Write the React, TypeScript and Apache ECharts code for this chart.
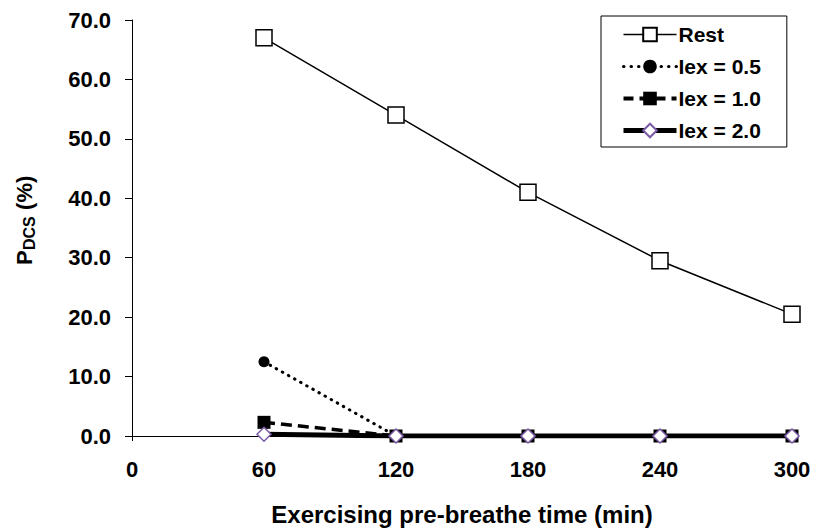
import React, { useEffect, useRef } from "react";
import * as echarts from "echarts";

const times = [60, 120, 180, 240, 300];
const rest = [67.0, 54.0, 41.0, 29.5, 20.5];
const iex05 = [12.5, 0, 0, 0, 0];
const iex10 = [2.3, 0, 0, 0, 0];
const iex20 = [0.3, 0, 0, 0, 0];
const seriesNames = ["Rest", "Iex = 0.5", "Iex = 1.0", "Iex = 2.0"];
const xTitle = "Exercising pre-breathe time (min)";

const FONT = "'Liberation Sans', Arial, sans-serif";

const pairs = (ys: number[]) => times.map((t, i) => [t, ys[i]]);

export default function App() {
  const ref = useRef<HTMLDivElement>(null);
  useEffect(() => {
    if (!ref.current) return;
    const chart = echarts.init(ref.current, undefined, { renderer: "svg" });
    chart.setOption({
      animation: false,
      backgroundColor: "#fff",
      textStyle: { fontFamily: FONT, color: "#000" },
      grid: { left: 132, right: 22, top: 20, bottom: 91, containLabel: false },
      legend: {
        orient: "vertical",
        left: 601,
        top: 16,
        padding: [8, 26, 6, 20],
        borderColor: "#000",
        borderWidth: 1,
        backgroundColor: "#fff",
        itemWidth: 53,
        itemHeight: 17,
        itemGap: 11,
        textStyle: { fontFamily: FONT, fontWeight: "bold", fontSize: 21, color: "#000", padding: [0, 0, 0, -3] },
        data: [
          { name: seriesNames[0], lineStyle: { width: 1.5, color: "#000" } },
          { name: seriesNames[1], lineStyle: { width: 3, color: "#000", type: [0.5, 7], cap: "round" } },
          { name: seriesNames[2], lineStyle: { width: 4, color: "#000", type: [10, 6] } },
          { name: seriesNames[3], lineStyle: { width: 5, color: "#000" } },
        ],
      },
      xAxis: {
        type: "value",
        min: 0,
        max: 300,
        interval: 60,
        name: xTitle,
        nameLocation: "middle",
        nameGap: 66,
        nameTextStyle: { fontFamily: FONT, fontWeight: "bold", fontSize: 24, color: "#000" },
        axisLine: { lineStyle: { color: "#000", width: 1 } },
        axisTick: { show: true, length: 5, lineStyle: { color: "#000" } },
        axisLabel: { fontFamily: FONT, fontWeight: "bold", fontSize: 22, color: "#000", margin: 22 },
        splitLine: { show: false },
      },
      yAxis: {
        type: "value",
        min: 0,
        max: 70,
        interval: 10,
        axisLine: { show: true, lineStyle: { color: "#000", width: 1 } },
        axisTick: { show: true, length: 7, lineStyle: { color: "#000" } },
        axisLabel: {
          fontFamily: FONT,
          fontWeight: "bold",
          fontSize: 22,
          color: "#000",
          margin: 21,
          formatter: (v: number) => v.toFixed(1),
        },
        splitLine: { show: false },
      },
      graphic: [
        {
          type: "group",
          x: 24,
          y: 265,
          rotation: Math.PI / 2,
          children: [
            {
              type: "text",
              x: 0,
              y: 0,
              style: { text: "P", font: `bold 22px ${FONT}`, fill: "#000", textAlign: "left", textVerticalAlign: "middle" },
            },
            {
              type: "text",
              x: 15,
              y: 5,
              style: { text: "DCS", font: `bold 16px ${FONT}`, fill: "#000", textAlign: "left", textVerticalAlign: "middle" },
            },
            {
              type: "text",
              x: 49,
              y: 0,
              style: { text: " (%)", font: `bold 22px ${FONT}`, fill: "#000", textAlign: "left", textVerticalAlign: "middle" },
            },
          ],
        },
      ],
      series: [
        {
          name: seriesNames[0],
          type: "line",
          data: pairs(rest),
          symbol: "rect",
          symbolSize: 16,
          lineStyle: { color: "#000", width: 1.5, type: "solid" },
          itemStyle: { color: "#fff", borderColor: "#000", borderWidth: 1.5 },
          z: 2,
        },
        {
          name: seriesNames[1],
          type: "line",
          data: pairs(iex05),
          symbol: "circle",
          symbolSize: 11,
          lineStyle: { color: "#000", width: 3, type: [0.5, 6.5], cap: "round" },
          itemStyle: { color: "#000", borderColor: "#000", borderWidth: 0 },
          z: 3,
        },
        {
          name: seriesNames[2],
          type: "line",
          data: pairs(iex10),
          symbol: "rect",
          symbolSize: 13,
          lineStyle: { color: "#000", width: 3.5, type: [11, 6] },
          itemStyle: { color: "#000", borderColor: "#000", borderWidth: 0 },
          z: 4,
        },
        {
          name: seriesNames[3],
          type: "line",
          data: pairs(iex20),
          symbol: "diamond",
          symbolSize: 14,
          lineStyle: { color: "#000", width: 5, type: "solid" },
          itemStyle: { color: "#fff", borderColor: "#7a5aa6", borderWidth: 1.5 },
          z: 5,
        },
      ],
    });
    return () => chart.dispose();
  }, []);
  return <div ref={ref} style={{ width: 814, height: 531, position: "absolute", left: 0, top: 0 }} />;
}
